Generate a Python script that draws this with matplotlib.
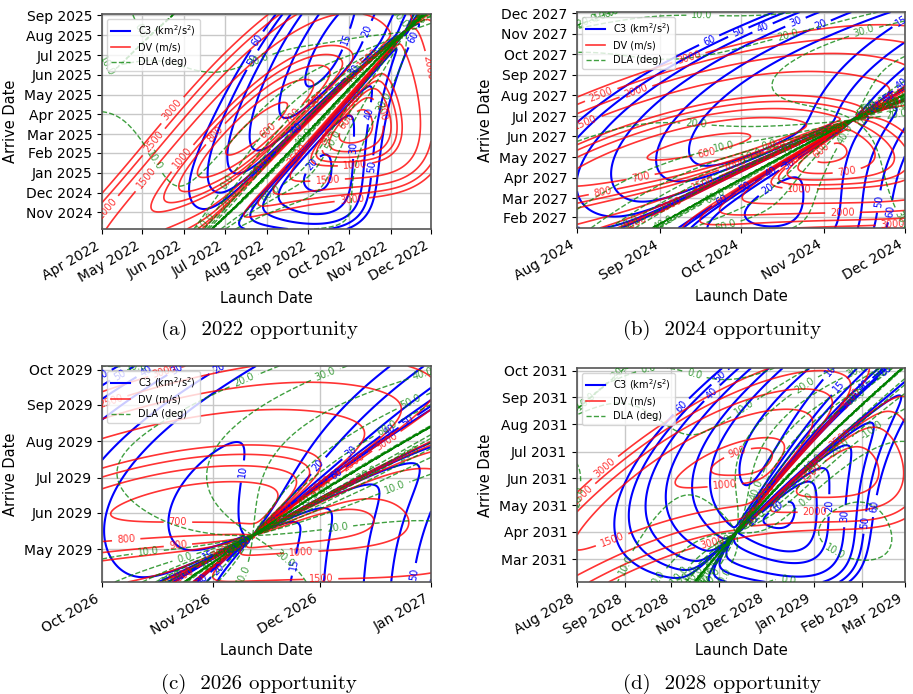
import numpy as np
import matplotlib
matplotlib.use('Agg')
import matplotlib.pyplot as plt
import matplotlib.dates as mdates
from matplotlib.lines import Line2D

MU_SUN = 1.32712440018e11   # km^3/s^2
MU_MARS = 42828.37
R_PERI = 3396.2 + 400.0     # capture periapsis radius, km
AU_KM = 1.495978707e8
OBLIQ = np.radians(23.43928)

# mean orbital elements: a (AU), e, i, L, long. peri, node (deg) and rates per century
EARTH_EL = [1.00000261, 0.01671123, -0.00001531, 100.46457166, 102.93768193, 0.0]
EARTH_RATE = [0.00000562, -0.00004392, -0.01294668, 35999.37244981, 0.32327364, 0.0]
MARS_EL = [1.52371034, 0.09339410, 1.84969142, -4.55343205, -23.94362959, 49.55953891]
MARS_RATE = [0.00001847, 0.00007882, -0.00813131, 19140.30268499, 0.44441088, -0.29257343]
ARRIVE_EPOCH_SHIFT = 640    # days between arrive-axis dates and ephemeris epoch

captions = ['(a)  2022 opportunity', '(b)  2024 opportunity',
            '(c)  2026 opportunity', '(d)  2028 opportunity']
launch_start = ['2022-04-01', '2024-08-01', '2026-10-01', '2028-08-01']
launch_end = ['2022-12-01', '2024-12-01', '2027-01-01', '2029-03-01']
arrive_start = ['2024-10-06', '2027-01-16', '2029-04-03', '2031-02-03']
arrive_end = ['2025-09-03', '2027-12-03', '2029-10-04', '2031-10-04']

c3_levels = [10, 15, 20, 30, 40, 50, 60]
dv_levels = [500, 600, 700, 800, 900, 1000, 1500, 2000, 2500, 3000]
dla_levels = [-40, -30, -20, -10, 0, 10, 20, 30, 40, 50, 60]

axes_pos = [[0.1117, 0.670, 0.3604, 0.3098], [0.632, 0.6715, 0.3592, 0.3112],
            [0.1117, 0.1614, 0.3604, 0.3112], [0.632, 0.1614, 0.3592, 0.3083]]
caption_pos = [(0.284, 0.517), (0.791, 0.517), (0.284, 0.008), (0.791, 0.008)]


def body_state(el, rate, jd):
    T = (jd - 2451545.0) / 36525.0
    a, e, inc, L, wbar, node = [x + dx * T for x, dx in zip(el, rate)]
    a = a * AU_KM
    inc, L, wbar, node = np.radians(inc), np.radians(L), np.radians(wbar), np.radians(node)
    argp = wbar - node
    M = np.mod(L - wbar + np.pi, 2 * np.pi) - np.pi
    E = M + e * np.sin(M)
    for _ in range(20):
        E = E - (E - e * np.sin(E) - M) / (1 - e * np.cos(E))
    n = np.sqrt(MU_SUN / a ** 3)
    xp = a * (np.cos(E) - e)
    yp = a * np.sqrt(1 - e ** 2) * np.sin(E)
    den = 1 - e * np.cos(E)
    vxp = -a * n * np.sin(E) / den
    vyp = a * n * np.sqrt(1 - e ** 2) * np.cos(E) / den
    cw, sw = np.cos(argp), np.sin(argp)
    cO, sO = np.cos(node), np.sin(node)
    ci, si = np.cos(inc), np.sin(inc)
    R = [[cw * cO - sw * sO * ci, -sw * cO - cw * sO * ci],
         [cw * sO + sw * cO * ci, -sw * sO + cw * cO * ci],
         [sw * si, cw * si]]
    r = np.stack([R[k][0] * xp + R[k][1] * yp for k in range(3)], axis=-1)
    v = np.stack([R[k][0] * vxp + R[k][1] * vyp for k in range(3)], axis=-1)
    return r, v


def stumpff(z):
    zp = np.where(z > 1e-8, z, 1.0)
    zn = np.where(z < -1e-8, -z, 1.0)
    sp, sn = np.sqrt(zp), np.sqrt(zn)
    C = np.where(z > 1e-8, (1 - np.cos(sp)) / zp,
                 np.where(z < -1e-8, (np.cosh(sn) - 1) / zn, 0.5))
    S = np.where(z > 1e-8, (sp - np.sin(sp)) / sp ** 3,
                 np.where(z < -1e-8, (np.sinh(sn) - sn) / sn ** 3, 1 / 6))
    return C, S


def lambert(r1, r2, tof):
    # universal-variable Lambert solver, prograde, zero revolutions
    r1n = np.linalg.norm(r1, axis=-1)
    r2n = np.linalg.norm(r2, axis=-1)
    cosd = np.clip(np.sum(r1 * r2, axis=-1) / (r1n * r2n), -1, 1)
    cz = r1[..., 0] * r2[..., 1] - r1[..., 1] * r2[..., 0]
    dth = np.arccos(cosd)
    dth = np.where(cz >= 0, dth, 2 * np.pi - dth)
    A = np.sin(dth) * np.sqrt(r1n * r2n / (1 - cosd))

    lo = np.full(r1n.shape, -120.0)
    hi = np.full(r1n.shape, 4 * np.pi ** 2 - 1e-7)
    for _ in range(70):
        z = 0.5 * (lo + hi)
        C, S = stumpff(z)
        y = r1n + r2n + A * (z * S - 1) / np.sqrt(C)
        yp = np.maximum(y, 0)
        t = ((yp / C) ** 1.5 * S + A * np.sqrt(yp)) / np.sqrt(MU_SUN)
        up = (y < 0) | (t < tof)
        lo = np.where(up, z, lo)
        hi = np.where(up, hi, z)
    z = 0.5 * (lo + hi)
    C, S = stumpff(z)
    y = r1n + r2n + A * (z * S - 1) / np.sqrt(C)
    f = 1 - y / r1n
    g = A * np.sqrt(y / MU_SUN)
    gdot = 1 - y / r2n
    v1 = (r2 - f[..., None] * r1) / g[..., None]
    v2 = (gdot[..., None] * r2 - r1) / g[..., None]
    return v1, v2


def to_jd(d):
    return (d - np.datetime64('2000-01-01T12:00')) / np.timedelta64(1, 'D') + 2451545.0


def date_grid(start, end, n):
    t0 = np.datetime64(start).astype('datetime64[m]')
    t1 = np.datetime64(end).astype('datetime64[m]')
    return t0 + ((t1 - t0).astype(float) * np.linspace(0, 1, n)).astype('timedelta64[m]')


fig = plt.figure(figsize=(9.13, 6.94), dpi=100)
for k in range(4):
    ld = date_grid(launch_start[k], launch_end[k], 300)
    ad = date_grid(arrive_start[k], arrive_end[k], 300)
    jd_l = to_jd(ld)
    jd_a = to_jd(ad) - ARRIVE_EPOCH_SHIFT
    rE, vE = body_state(EARTH_EL, EARTH_RATE, jd_l)
    rM, vM = body_state(MARS_EL, MARS_RATE, jd_a)
    shape = (len(ad), len(ld), 3)
    r1 = np.broadcast_to(rE[None, :, :], shape)
    r2 = np.broadcast_to(rM[:, None, :], shape)
    tof = (jd_a[:, None] - jd_l[None, :]) * 86400.0
    v1, v2 = lambert(r1, r2, tof)
    vinf = v1 - vE[None, :, :]
    c3 = np.sum(vinf ** 2, axis=-1)
    # capture burn at Mars periapsis onto a near-parabolic orbit
    varr = np.linalg.norm(v2 - vM[:, None, :], axis=-1)
    vesc = np.sqrt(2 * MU_MARS / R_PERI)
    dv = (np.sqrt(varr ** 2 + vesc ** 2) - vesc) * 1000
    zeq = vinf[..., 1] * np.sin(OBLIQ) + vinf[..., 2] * np.cos(OBLIQ)
    dla = np.degrees(np.arcsin(zeq / np.sqrt(c3)))

    X = mdates.date2num(ld.astype('datetime64[s]').astype(object))
    Y = mdates.date2num(ad.astype('datetime64[s]').astype(object))
    ax = fig.add_axes(axes_pos[k])
    cs = ax.contour(X, Y, c3, levels=c3_levels, colors='b', linewidths=1.5)
    ax.clabel(cs, fmt='%d', fontsize=7)
    cs = ax.contour(X, Y, dv, levels=dv_levels, colors='r', linewidths=1.2, alpha=0.8)
    ax.clabel(cs, fmt='%d', fontsize=7)
    cs = ax.contour(X, Y, dla, levels=dla_levels, colors='g', linewidths=1.0,
                    linestyles='--', alpha=0.75)
    ax.clabel(cs, fmt='%.1f', fontsize=7)

    ax.set_xlim(X[0], X[-1])
    ax.set_ylim(Y[0], Y[-1])
    ax.xaxis.set_major_locator(mdates.MonthLocator())
    ax.xaxis.set_major_formatter(mdates.DateFormatter('%b %Y'))
    ax.yaxis.set_major_locator(mdates.MonthLocator())
    ax.yaxis.set_major_formatter(mdates.DateFormatter('%b %Y'))
    for lab in ax.get_xticklabels():
        lab.set_rotation(30)
        lab.set_ha('right')
    ax.tick_params(labelsize=10)
    ax.grid(color='#c8c8c8', linewidth=1.0)
    for sp in ax.spines.values():
        sp.set_color('#555555')
        sp.set_linewidth(1.2)
    ax.set_xlabel('Launch Date', fontsize=10.5)
    ax.set_ylabel('Arrive Date', fontsize=10.5)

    handles = [Line2D([], [], color='b', lw=1.5),
               Line2D([], [], color='r', lw=1.2, alpha=0.8),
               Line2D([], [], color='g', lw=1.0, ls='--', alpha=0.75)]
    ax.legend(handles, ['C3 (km$^2$/s$^2$)', 'DV (m/s)', 'DLA (deg)'],
              loc='upper left', fontsize=7)
    fig.text(caption_pos[k][0], caption_pos[k][1], captions[k], ha='center',
             va='baseline', fontsize=15, family='cmr10')

fig.savefig('out.png', dpi=100)
